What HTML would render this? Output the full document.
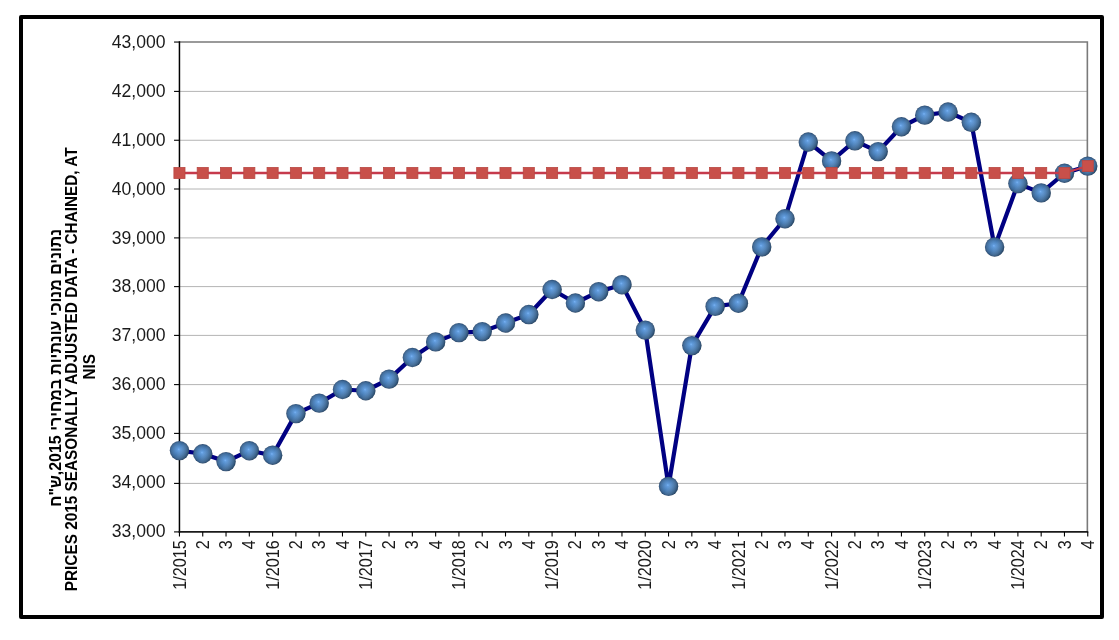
<!DOCTYPE html>
<html><head><meta charset="utf-8"><title>chart</title>
<style>
html,body{margin:0;padding:0;background:#fff;}
body{width:1119px;height:640px;overflow:hidden;font-family:"Liberation Sans",sans-serif;}
svg{display:block;position:absolute;left:0;top:0;will-change:transform;}
text{font-family:"Liberation Sans",sans-serif;}
</style></head><body>
<svg width="1119" height="640" viewBox="0 0 1119 640">
<defs>
<radialGradient id="ball" cx="0.5" cy="0.5" r="0.5" fx="0.46" fy="0.43">
<stop offset="0" stop-color="#7ab4f6"/>
<stop offset="0.14" stop-color="#5f9adb"/>
<stop offset="0.5" stop-color="#4a80ba"/>
<stop offset="0.8" stop-color="#3b6898"/>
<stop offset="0.93" stop-color="#2f557f"/>
<stop offset="1" stop-color="#223d60"/>
</radialGradient>
<linearGradient id="shade" x1="0.05" y1="0.25" x2="0.95" y2="0.75">
<stop offset="0" stop-color="#ffffff" stop-opacity="0.07"/>
<stop offset="0.45" stop-color="#ffffff" stop-opacity="0"/>
<stop offset="1" stop-color="#08202c" stop-opacity="0.3"/>
</linearGradient>
</defs>
<rect x="0" y="0" width="1119" height="640" fill="#ffffff"/>
<rect x="21" y="17" width="1081" height="600" fill="#ffffff" stroke="#000000" stroke-width="4" stroke-linejoin="round"/>

<g stroke="#b4b4b4" stroke-width="1" fill="none">
<line x1="179.45" y1="91.40" x2="1087.76" y2="91.40"/>
<line x1="179.45" y1="140.25" x2="1087.76" y2="140.25"/>
<line x1="179.45" y1="189.00" x2="1087.76" y2="189.00"/>
<line x1="179.45" y1="237.90" x2="1087.76" y2="237.90"/>
<line x1="179.45" y1="286.60" x2="1087.76" y2="286.60"/>
<line x1="179.45" y1="335.40" x2="1087.76" y2="335.40"/>
<line x1="179.45" y1="384.60" x2="1087.76" y2="384.60"/>
<line x1="179.45" y1="433.40" x2="1087.76" y2="433.40"/>
<line x1="179.45" y1="483.40" x2="1087.76" y2="483.40"/>
</g>
<path d="M179.45 42.05 H1087.36 V531.90" fill="none" stroke="#7a7a7a" stroke-width="1.6"/>
<line x1="179.45" y1="41.25" x2="179.45" y2="532.70" stroke="#000" stroke-width="1.5"/>
<line x1="178.75" y1="531.90" x2="1088.26" y2="531.90" stroke="#1a1a1a" stroke-width="1.7"/>
<g stroke="#000" stroke-width="1.1">
<line x1="174.05" y1="42.05" x2="179.45" y2="42.05"/>
<line x1="174.05" y1="91.40" x2="179.45" y2="91.40"/>
<line x1="174.05" y1="140.25" x2="179.45" y2="140.25"/>
<line x1="174.05" y1="189.00" x2="179.45" y2="189.00"/>
<line x1="174.05" y1="237.90" x2="179.45" y2="237.90"/>
<line x1="174.05" y1="286.60" x2="179.45" y2="286.60"/>
<line x1="174.05" y1="335.40" x2="179.45" y2="335.40"/>
<line x1="174.05" y1="384.60" x2="179.45" y2="384.60"/>
<line x1="174.05" y1="433.40" x2="179.45" y2="433.40"/>
<line x1="174.05" y1="483.40" x2="179.45" y2="483.40"/>
<line x1="174.05" y1="531.90" x2="179.45" y2="531.90"/>
<line x1="179.45" y1="531.90" x2="179.45" y2="536.50"/>
<line x1="202.74" y1="531.90" x2="202.74" y2="536.50"/>
<line x1="226.03" y1="531.90" x2="226.03" y2="536.50"/>
<line x1="249.32" y1="531.90" x2="249.32" y2="536.50"/>
<line x1="272.61" y1="531.90" x2="272.61" y2="536.50"/>
<line x1="295.90" y1="531.90" x2="295.90" y2="536.50"/>
<line x1="319.19" y1="531.90" x2="319.19" y2="536.50"/>
<line x1="342.48" y1="531.90" x2="342.48" y2="536.50"/>
<line x1="365.77" y1="531.90" x2="365.77" y2="536.50"/>
<line x1="389.06" y1="531.90" x2="389.06" y2="536.50"/>
<line x1="412.35" y1="531.90" x2="412.35" y2="536.50"/>
<line x1="435.64" y1="531.90" x2="435.64" y2="536.50"/>
<line x1="458.93" y1="531.90" x2="458.93" y2="536.50"/>
<line x1="482.22" y1="531.90" x2="482.22" y2="536.50"/>
<line x1="505.51" y1="531.90" x2="505.51" y2="536.50"/>
<line x1="528.80" y1="531.90" x2="528.80" y2="536.50"/>
<line x1="552.09" y1="531.90" x2="552.09" y2="536.50"/>
<line x1="575.38" y1="531.90" x2="575.38" y2="536.50"/>
<line x1="598.67" y1="531.90" x2="598.67" y2="536.50"/>
<line x1="621.96" y1="531.90" x2="621.96" y2="536.50"/>
<line x1="645.25" y1="531.90" x2="645.25" y2="536.50"/>
<line x1="668.54" y1="531.90" x2="668.54" y2="536.50"/>
<line x1="691.83" y1="531.90" x2="691.83" y2="536.50"/>
<line x1="715.12" y1="531.90" x2="715.12" y2="536.50"/>
<line x1="738.41" y1="531.90" x2="738.41" y2="536.50"/>
<line x1="761.70" y1="531.90" x2="761.70" y2="536.50"/>
<line x1="784.99" y1="531.90" x2="784.99" y2="536.50"/>
<line x1="808.28" y1="531.90" x2="808.28" y2="536.50"/>
<line x1="831.57" y1="531.90" x2="831.57" y2="536.50"/>
<line x1="854.86" y1="531.90" x2="854.86" y2="536.50"/>
<line x1="878.15" y1="531.90" x2="878.15" y2="536.50"/>
<line x1="901.44" y1="531.90" x2="901.44" y2="536.50"/>
<line x1="924.73" y1="531.90" x2="924.73" y2="536.50"/>
<line x1="948.02" y1="531.90" x2="948.02" y2="536.50"/>
<line x1="971.31" y1="531.90" x2="971.31" y2="536.50"/>
<line x1="994.60" y1="531.90" x2="994.60" y2="536.50"/>
<line x1="1017.89" y1="531.90" x2="1017.89" y2="536.50"/>
<line x1="1041.18" y1="531.90" x2="1041.18" y2="536.50"/>
<line x1="1064.47" y1="531.90" x2="1064.47" y2="536.50"/>
<line x1="1087.76" y1="531.90" x2="1087.76" y2="536.50"/>
</g>
<g font-size="17.6" fill="#1a1a1a" text-anchor="end">
<text x="165.5" y="48.15">43,000</text>
<text x="165.5" y="97.01">42,000</text>
<text x="165.5" y="145.87">41,000</text>
<text x="165.5" y="194.73">40,000</text>
<text x="165.5" y="243.59">39,000</text>
<text x="165.5" y="292.45">38,000</text>
<text x="165.5" y="341.31">37,000</text>
<text x="165.5" y="390.17">36,000</text>
<text x="165.5" y="439.03">35,000</text>
<text x="165.5" y="487.89">34,000</text>
<text x="165.5" y="536.75">33,000</text>
</g>
<g font-size="17.6" fill="#1a1a1a" text-anchor="end">
<text transform="translate(185.55 540.2) rotate(-90) scale(0.921 1)">1/2015</text>
<text transform="translate(208.84 540.2) rotate(-90) scale(0.921 1)">2</text>
<text transform="translate(232.13 540.2) rotate(-90) scale(0.921 1)">3</text>
<text transform="translate(255.42 540.2) rotate(-90) scale(0.921 1)">4</text>
<text transform="translate(278.71 540.2) rotate(-90) scale(0.921 1)">1/2016</text>
<text transform="translate(302.00 540.2) rotate(-90) scale(0.921 1)">2</text>
<text transform="translate(325.29 540.2) rotate(-90) scale(0.921 1)">3</text>
<text transform="translate(348.58 540.2) rotate(-90) scale(0.921 1)">4</text>
<text transform="translate(371.87 540.2) rotate(-90) scale(0.921 1)">1/2017</text>
<text transform="translate(395.16 540.2) rotate(-90) scale(0.921 1)">2</text>
<text transform="translate(418.45 540.2) rotate(-90) scale(0.921 1)">3</text>
<text transform="translate(441.74 540.2) rotate(-90) scale(0.921 1)">4</text>
<text transform="translate(465.03 540.2) rotate(-90) scale(0.921 1)">1/2018</text>
<text transform="translate(488.32 540.2) rotate(-90) scale(0.921 1)">2</text>
<text transform="translate(511.61 540.2) rotate(-90) scale(0.921 1)">3</text>
<text transform="translate(534.90 540.2) rotate(-90) scale(0.921 1)">4</text>
<text transform="translate(558.19 540.2) rotate(-90) scale(0.921 1)">1/2019</text>
<text transform="translate(581.48 540.2) rotate(-90) scale(0.921 1)">2</text>
<text transform="translate(604.77 540.2) rotate(-90) scale(0.921 1)">3</text>
<text transform="translate(628.06 540.2) rotate(-90) scale(0.921 1)">4</text>
<text transform="translate(651.35 540.2) rotate(-90) scale(0.921 1)">1/2020</text>
<text transform="translate(674.64 540.2) rotate(-90) scale(0.921 1)">2</text>
<text transform="translate(697.93 540.2) rotate(-90) scale(0.921 1)">3</text>
<text transform="translate(721.22 540.2) rotate(-90) scale(0.921 1)">4</text>
<text transform="translate(744.51 540.2) rotate(-90) scale(0.921 1)">1/2021</text>
<text transform="translate(767.80 540.2) rotate(-90) scale(0.921 1)">2</text>
<text transform="translate(791.09 540.2) rotate(-90) scale(0.921 1)">3</text>
<text transform="translate(814.38 540.2) rotate(-90) scale(0.921 1)">4</text>
<text transform="translate(837.67 540.2) rotate(-90) scale(0.921 1)">1/2022</text>
<text transform="translate(860.96 540.2) rotate(-90) scale(0.921 1)">2</text>
<text transform="translate(884.25 540.2) rotate(-90) scale(0.921 1)">3</text>
<text transform="translate(907.54 540.2) rotate(-90) scale(0.921 1)">4</text>
<text transform="translate(930.83 540.2) rotate(-90) scale(0.921 1)">1/2023</text>
<text transform="translate(954.12 540.2) rotate(-90) scale(0.921 1)">2</text>
<text transform="translate(977.41 540.2) rotate(-90) scale(0.921 1)">3</text>
<text transform="translate(1000.70 540.2) rotate(-90) scale(0.921 1)">4</text>
<text transform="translate(1023.99 540.2) rotate(-90) scale(0.921 1)">1/2024</text>
<text transform="translate(1047.28 540.2) rotate(-90) scale(0.921 1)">2</text>
<text transform="translate(1070.57 540.2) rotate(-90) scale(0.921 1)">3</text>
<text transform="translate(1093.86 540.2) rotate(-90) scale(0.921 1)">4</text>
</g>
<g font-weight="bold" fill="#000" text-anchor="middle">
<text font-size="17.3" transform="translate(60.6 367.8) rotate(-90) scale(0.923 1)" direction="rtl" unicode-bidi="embed">נתונים מנוכי עונתיות במחירי 2015,ש"ח</text>
<text font-size="16.8" transform="translate(77.2 369.3) rotate(-90) scale(0.913 1)">PRICES 2015 SEASONALLY ADJUSTED DATA - CHAINED, AT</text>
<text font-size="16.8" transform="translate(95.2 366.8) rotate(-90) scale(0.913 1)">NIS</text>
</g>
<polyline points="179.45,450.60 202.74,453.75 226.03,461.60 249.32,450.70 272.61,455.20 295.90,413.60 319.19,403.10 342.48,389.50 365.77,390.75 389.06,379.10 412.35,357.50 435.64,341.90 458.93,332.60 482.22,331.60 505.51,323.00 528.80,314.55 552.09,289.50 575.38,303.00 598.67,291.70 621.96,284.70 645.25,330.10 668.54,486.40 691.83,345.60 715.12,306.40 738.41,303.25 761.70,246.90 784.99,218.75 808.28,142.00 831.57,160.90 854.86,140.80 878.15,151.60 901.44,126.75 924.73,115.15 948.02,112.00 971.31,122.30 994.60,247.00 1017.89,183.60 1041.18,192.90 1064.47,173.25 1087.76,166.10" fill="none" stroke="#000082" stroke-width="4.2" stroke-linejoin="round" stroke-linecap="round"/>
<circle cx="179.45" cy="450.60" r="9.7" fill="url(#ball)"/><circle cx="179.45" cy="450.60" r="9.7" fill="url(#shade)"/>
<circle cx="202.74" cy="453.75" r="9.7" fill="url(#ball)"/><circle cx="202.74" cy="453.75" r="9.7" fill="url(#shade)"/>
<circle cx="226.03" cy="461.60" r="9.7" fill="url(#ball)"/><circle cx="226.03" cy="461.60" r="9.7" fill="url(#shade)"/>
<circle cx="249.32" cy="450.70" r="9.7" fill="url(#ball)"/><circle cx="249.32" cy="450.70" r="9.7" fill="url(#shade)"/>
<circle cx="272.61" cy="455.20" r="9.7" fill="url(#ball)"/><circle cx="272.61" cy="455.20" r="9.7" fill="url(#shade)"/>
<circle cx="295.90" cy="413.60" r="9.7" fill="url(#ball)"/><circle cx="295.90" cy="413.60" r="9.7" fill="url(#shade)"/>
<circle cx="319.19" cy="403.10" r="9.7" fill="url(#ball)"/><circle cx="319.19" cy="403.10" r="9.7" fill="url(#shade)"/>
<circle cx="342.48" cy="389.50" r="9.7" fill="url(#ball)"/><circle cx="342.48" cy="389.50" r="9.7" fill="url(#shade)"/>
<circle cx="365.77" cy="390.75" r="9.7" fill="url(#ball)"/><circle cx="365.77" cy="390.75" r="9.7" fill="url(#shade)"/>
<circle cx="389.06" cy="379.10" r="9.7" fill="url(#ball)"/><circle cx="389.06" cy="379.10" r="9.7" fill="url(#shade)"/>
<circle cx="412.35" cy="357.50" r="9.7" fill="url(#ball)"/><circle cx="412.35" cy="357.50" r="9.7" fill="url(#shade)"/>
<circle cx="435.64" cy="341.90" r="9.7" fill="url(#ball)"/><circle cx="435.64" cy="341.90" r="9.7" fill="url(#shade)"/>
<circle cx="458.93" cy="332.60" r="9.7" fill="url(#ball)"/><circle cx="458.93" cy="332.60" r="9.7" fill="url(#shade)"/>
<circle cx="482.22" cy="331.60" r="9.7" fill="url(#ball)"/><circle cx="482.22" cy="331.60" r="9.7" fill="url(#shade)"/>
<circle cx="505.51" cy="323.00" r="9.7" fill="url(#ball)"/><circle cx="505.51" cy="323.00" r="9.7" fill="url(#shade)"/>
<circle cx="528.80" cy="314.55" r="9.7" fill="url(#ball)"/><circle cx="528.80" cy="314.55" r="9.7" fill="url(#shade)"/>
<circle cx="552.09" cy="289.50" r="9.7" fill="url(#ball)"/><circle cx="552.09" cy="289.50" r="9.7" fill="url(#shade)"/>
<circle cx="575.38" cy="303.00" r="9.7" fill="url(#ball)"/><circle cx="575.38" cy="303.00" r="9.7" fill="url(#shade)"/>
<circle cx="598.67" cy="291.70" r="9.7" fill="url(#ball)"/><circle cx="598.67" cy="291.70" r="9.7" fill="url(#shade)"/>
<circle cx="621.96" cy="284.70" r="9.7" fill="url(#ball)"/><circle cx="621.96" cy="284.70" r="9.7" fill="url(#shade)"/>
<circle cx="645.25" cy="330.10" r="9.7" fill="url(#ball)"/><circle cx="645.25" cy="330.10" r="9.7" fill="url(#shade)"/>
<circle cx="668.54" cy="486.40" r="9.7" fill="url(#ball)"/><circle cx="668.54" cy="486.40" r="9.7" fill="url(#shade)"/>
<circle cx="691.83" cy="345.60" r="9.7" fill="url(#ball)"/><circle cx="691.83" cy="345.60" r="9.7" fill="url(#shade)"/>
<circle cx="715.12" cy="306.40" r="9.7" fill="url(#ball)"/><circle cx="715.12" cy="306.40" r="9.7" fill="url(#shade)"/>
<circle cx="738.41" cy="303.25" r="9.7" fill="url(#ball)"/><circle cx="738.41" cy="303.25" r="9.7" fill="url(#shade)"/>
<circle cx="761.70" cy="246.90" r="9.7" fill="url(#ball)"/><circle cx="761.70" cy="246.90" r="9.7" fill="url(#shade)"/>
<circle cx="784.99" cy="218.75" r="9.7" fill="url(#ball)"/><circle cx="784.99" cy="218.75" r="9.7" fill="url(#shade)"/>
<circle cx="808.28" cy="142.00" r="9.7" fill="url(#ball)"/><circle cx="808.28" cy="142.00" r="9.7" fill="url(#shade)"/>
<circle cx="831.57" cy="160.90" r="9.7" fill="url(#ball)"/><circle cx="831.57" cy="160.90" r="9.7" fill="url(#shade)"/>
<circle cx="854.86" cy="140.80" r="9.7" fill="url(#ball)"/><circle cx="854.86" cy="140.80" r="9.7" fill="url(#shade)"/>
<circle cx="878.15" cy="151.60" r="9.7" fill="url(#ball)"/><circle cx="878.15" cy="151.60" r="9.7" fill="url(#shade)"/>
<circle cx="901.44" cy="126.75" r="9.7" fill="url(#ball)"/><circle cx="901.44" cy="126.75" r="9.7" fill="url(#shade)"/>
<circle cx="924.73" cy="115.15" r="9.7" fill="url(#ball)"/><circle cx="924.73" cy="115.15" r="9.7" fill="url(#shade)"/>
<circle cx="948.02" cy="112.00" r="9.7" fill="url(#ball)"/><circle cx="948.02" cy="112.00" r="9.7" fill="url(#shade)"/>
<circle cx="971.31" cy="122.30" r="9.7" fill="url(#ball)"/><circle cx="971.31" cy="122.30" r="9.7" fill="url(#shade)"/>
<circle cx="994.60" cy="247.00" r="9.7" fill="url(#ball)"/><circle cx="994.60" cy="247.00" r="9.7" fill="url(#shade)"/>
<circle cx="1017.89" cy="183.60" r="9.7" fill="url(#ball)"/><circle cx="1017.89" cy="183.60" r="9.7" fill="url(#shade)"/>
<circle cx="1041.18" cy="192.90" r="9.7" fill="url(#ball)"/><circle cx="1041.18" cy="192.90" r="9.7" fill="url(#shade)"/>
<circle cx="1064.47" cy="173.25" r="9.7" fill="url(#ball)"/><circle cx="1064.47" cy="173.25" r="9.7" fill="url(#shade)"/>
<circle cx="1087.76" cy="166.10" r="9.7" fill="url(#ball)"/><circle cx="1087.76" cy="166.10" r="9.7" fill="url(#shade)"/>
<polyline points="179.45,173.00 202.74,173.00 226.03,173.00 249.32,173.00 272.61,173.00 295.90,173.00 319.19,173.00 342.48,173.00 365.77,173.00 389.06,173.00 412.35,173.00 435.64,173.00 458.93,173.00 482.22,173.00 505.51,173.00 528.80,173.00 552.09,173.00 575.38,173.00 598.67,173.00 621.96,173.00 645.25,173.00 668.54,173.00 691.83,173.00 715.12,173.00 738.41,173.00 761.70,173.00 784.99,173.00 808.28,173.00 831.57,173.00 854.86,173.00 878.15,173.00 901.44,173.00 924.73,173.00 948.02,173.00 971.31,173.00 994.60,173.00 1017.89,173.00 1041.18,173.00 1064.47,173.00 1087.76,166.00" fill="none" stroke="#c63a4c" stroke-width="2.3" stroke-linejoin="round"/>
<rect x="173.90" y="167.45" width="11.1" height="11.1" fill="#c8504a" stroke="#b94843" stroke-width="0.8"/>
<rect x="197.19" y="167.45" width="11.1" height="11.1" fill="#c8504a" stroke="#b94843" stroke-width="0.8"/>
<rect x="220.48" y="167.45" width="11.1" height="11.1" fill="#c8504a" stroke="#b94843" stroke-width="0.8"/>
<rect x="243.77" y="167.45" width="11.1" height="11.1" fill="#c8504a" stroke="#b94843" stroke-width="0.8"/>
<rect x="267.06" y="167.45" width="11.1" height="11.1" fill="#c8504a" stroke="#b94843" stroke-width="0.8"/>
<rect x="290.35" y="167.45" width="11.1" height="11.1" fill="#c8504a" stroke="#b94843" stroke-width="0.8"/>
<rect x="313.64" y="167.45" width="11.1" height="11.1" fill="#c8504a" stroke="#b94843" stroke-width="0.8"/>
<rect x="336.93" y="167.45" width="11.1" height="11.1" fill="#c8504a" stroke="#b94843" stroke-width="0.8"/>
<rect x="360.22" y="167.45" width="11.1" height="11.1" fill="#c8504a" stroke="#b94843" stroke-width="0.8"/>
<rect x="383.51" y="167.45" width="11.1" height="11.1" fill="#c8504a" stroke="#b94843" stroke-width="0.8"/>
<rect x="406.80" y="167.45" width="11.1" height="11.1" fill="#c8504a" stroke="#b94843" stroke-width="0.8"/>
<rect x="430.09" y="167.45" width="11.1" height="11.1" fill="#c8504a" stroke="#b94843" stroke-width="0.8"/>
<rect x="453.38" y="167.45" width="11.1" height="11.1" fill="#c8504a" stroke="#b94843" stroke-width="0.8"/>
<rect x="476.67" y="167.45" width="11.1" height="11.1" fill="#c8504a" stroke="#b94843" stroke-width="0.8"/>
<rect x="499.96" y="167.45" width="11.1" height="11.1" fill="#c8504a" stroke="#b94843" stroke-width="0.8"/>
<rect x="523.25" y="167.45" width="11.1" height="11.1" fill="#c8504a" stroke="#b94843" stroke-width="0.8"/>
<rect x="546.54" y="167.45" width="11.1" height="11.1" fill="#c8504a" stroke="#b94843" stroke-width="0.8"/>
<rect x="569.83" y="167.45" width="11.1" height="11.1" fill="#c8504a" stroke="#b94843" stroke-width="0.8"/>
<rect x="593.12" y="167.45" width="11.1" height="11.1" fill="#c8504a" stroke="#b94843" stroke-width="0.8"/>
<rect x="616.41" y="167.45" width="11.1" height="11.1" fill="#c8504a" stroke="#b94843" stroke-width="0.8"/>
<rect x="639.70" y="167.45" width="11.1" height="11.1" fill="#c8504a" stroke="#b94843" stroke-width="0.8"/>
<rect x="662.99" y="167.45" width="11.1" height="11.1" fill="#c8504a" stroke="#b94843" stroke-width="0.8"/>
<rect x="686.28" y="167.45" width="11.1" height="11.1" fill="#c8504a" stroke="#b94843" stroke-width="0.8"/>
<rect x="709.57" y="167.45" width="11.1" height="11.1" fill="#c8504a" stroke="#b94843" stroke-width="0.8"/>
<rect x="732.86" y="167.45" width="11.1" height="11.1" fill="#c8504a" stroke="#b94843" stroke-width="0.8"/>
<rect x="756.15" y="167.45" width="11.1" height="11.1" fill="#c8504a" stroke="#b94843" stroke-width="0.8"/>
<rect x="779.44" y="167.45" width="11.1" height="11.1" fill="#c8504a" stroke="#b94843" stroke-width="0.8"/>
<rect x="802.73" y="167.45" width="11.1" height="11.1" fill="#c8504a" stroke="#b94843" stroke-width="0.8"/>
<rect x="826.02" y="167.45" width="11.1" height="11.1" fill="#c8504a" stroke="#b94843" stroke-width="0.8"/>
<rect x="849.31" y="167.45" width="11.1" height="11.1" fill="#c8504a" stroke="#b94843" stroke-width="0.8"/>
<rect x="872.60" y="167.45" width="11.1" height="11.1" fill="#c8504a" stroke="#b94843" stroke-width="0.8"/>
<rect x="895.89" y="167.45" width="11.1" height="11.1" fill="#c8504a" stroke="#b94843" stroke-width="0.8"/>
<rect x="919.18" y="167.45" width="11.1" height="11.1" fill="#c8504a" stroke="#b94843" stroke-width="0.8"/>
<rect x="942.47" y="167.45" width="11.1" height="11.1" fill="#c8504a" stroke="#b94843" stroke-width="0.8"/>
<rect x="965.76" y="167.45" width="11.1" height="11.1" fill="#c8504a" stroke="#b94843" stroke-width="0.8"/>
<rect x="989.05" y="167.45" width="11.1" height="11.1" fill="#c8504a" stroke="#b94843" stroke-width="0.8"/>
<rect x="1012.34" y="167.45" width="11.1" height="11.1" fill="#c8504a" stroke="#b94843" stroke-width="0.8"/>
<rect x="1035.63" y="167.45" width="11.1" height="11.1" fill="#c8504a" stroke="#b94843" stroke-width="0.8"/>
<rect x="1058.92" y="167.45" width="11.1" height="11.1" fill="#c8504a" stroke="#b94843" stroke-width="0.8"/>
<rect x="1082.21" y="160.45" width="11.1" height="11.1" fill="#c8504a" stroke="#b94843" stroke-width="0.8"/>
</svg></body></html>
